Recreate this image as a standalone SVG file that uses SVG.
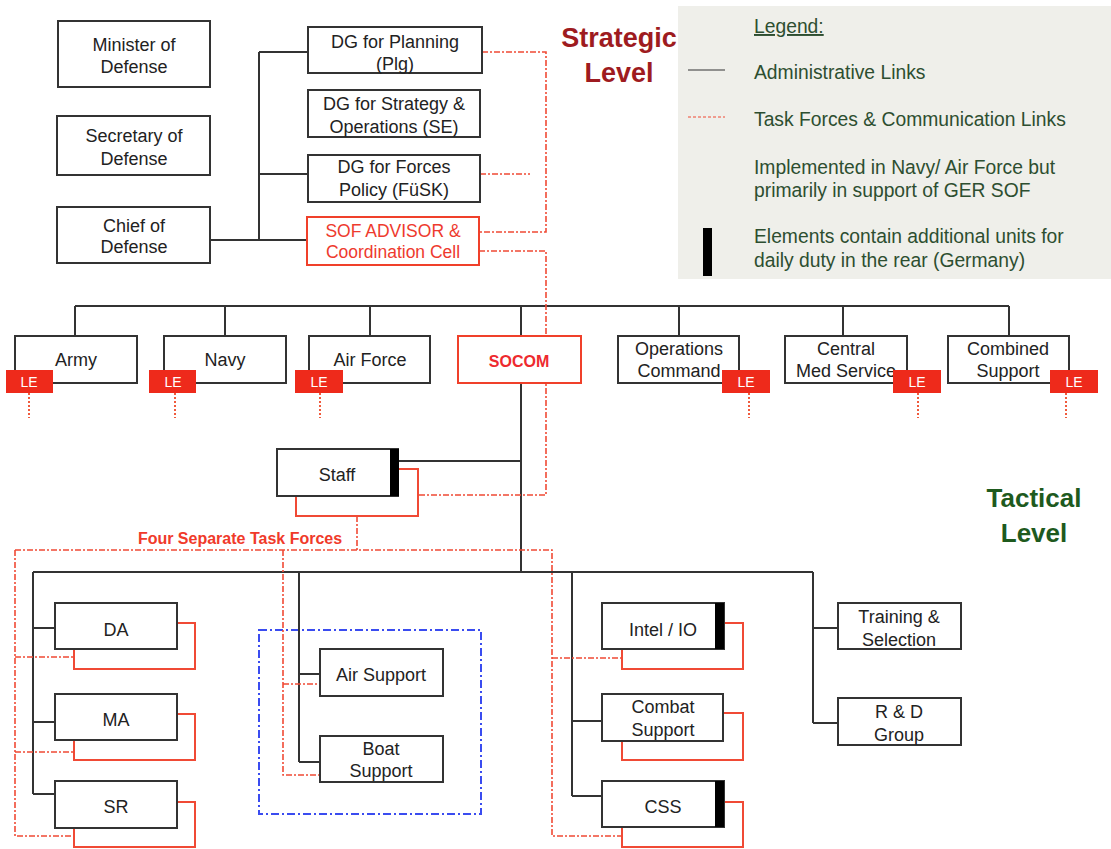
<svg xmlns="http://www.w3.org/2000/svg" width="1111" height="849" viewBox="0 0 1111 849">
<style>
.box{fill:#fff;stroke:#333;stroke-width:2}
.rbox{fill:#fff;stroke:#f0402a;stroke-width:2}
.obox{fill:#fff;stroke:#f04a35;stroke-width:2}
.t{font-family:"Liberation Sans",Arial,sans-serif;font-size:18px;fill:#222;text-anchor:middle}
.rt{font-family:"Liberation Sans",Arial,sans-serif;font-size:17.5px;fill:#ee3a2e;text-anchor:middle}
.le{fill:#ee2a1b}
.let{font-family:"Liberation Sans",Arial,sans-serif;font-size:14px;fill:#fff;text-anchor:middle}
.adm{stroke:#333;stroke-width:2;fill:none}
.tf{stroke:#f04a35;stroke-width:1.6;stroke-dasharray:6 2 2 2;fill:none}
.dot{stroke:#f05a3c;stroke-width:2;stroke-dasharray:2 2;fill:none}
.bar{fill:#000}
.lg{font-family:"Liberation Sans",Arial,sans-serif;font-size:19.3px;fill:#2d4e30}
</style>

<!-- Legend -->
<g id="legend">
<rect x="678" y="6" width="433" height="273" fill="#efefea"/>
<text class="lg" x="754" y="33" text-decoration="underline">Legend:</text>
<line x1="688" y1="70" x2="725" y2="70" stroke="#333" stroke-width="1.2"/>
<text class="lg" x="754" y="79">Administrative Links</text>
<line x1="688" y1="117" x2="725" y2="117" stroke="#f04a35" stroke-width="1.2" stroke-dasharray="3 2"/>
<text class="lg" x="754" y="126">Task Forces &amp; Communication Links</text>
<text class="lg" x="754" y="174">Implemented in Navy/ Air Force but</text>
<text class="lg" x="754" y="197">primarily in support of GER SOF</text>
<rect x="703" y="228" width="9" height="48" fill="#000"/>
<text class="lg" x="754" y="243">Elements contain additional units for</text>
<text class="lg" x="754" y="267">daily duty in the rear (Germany)</text>
</g>

<!-- Level labels -->
<g id="levels" font-family="'Liberation Sans',Arial,sans-serif" font-weight="bold" text-anchor="middle">
<text x="619" y="47" font-size="27" fill="#9e1b20">Strategic</text>
<text x="619" y="82" font-size="27" fill="#9e1b20">Level</text>
<text x="1034" y="507" font-size="26" fill="#1e5a1e">Tactical</text>
<text x="1034" y="542" font-size="26" fill="#1e5a1e">Level</text>
</g>

<!-- Blue area -->
<rect x="259" y="630" width="222" height="184" fill="none" stroke="#3a4cf0" stroke-width="2" stroke-dasharray="8 3 2 3"/>

<!-- Connectors -->
<g id="connectors">
<path class="adm" d="M210,240 H307 M259,52 V240 M259,52 H308 M259,174 H308"/>
<path class="adm" d="M75,306 H1009 M75,306 V336 M225,306 V336 M370,306 V336 M521,306 V336 M679,306 V336 M843,306 V336 M1009,306 V336"/>
<path class="adm" d="M521,383 V572 M398,461 H521"/>
<path class="adm" d="M33,572 H813 M33,572 V794 M33,628 H55 M33,722 H55 M33,794 H55"/>
<path class="adm" d="M299,572 V762 M299,674 H320 M299,762 H320"/>
<path class="adm" d="M572,572 V796 M572,721 H602 M572,796 H602"/>
<path class="adm" d="M813,572 V723 M813,628 H838 M813,723 H838"/>
<path class="tf" d="M482,52 H546 V232 H479"/>
<path class="tf" d="M480,174 H530"/>
<path class="tf" d="M479,251 H546 V495 H418"/>
<path class="tf" d="M357,516 V550"/>
<path class="tf" d="M15,550 H552 V836 H622"/>
<path class="tf" d="M15,550 V836 H74 M15,657 H74 M15,752 H74"/>
<path class="tf" d="M283,550 V775 H320 M283,684 H320"/>
<path class="tf" d="M552,658 H622"/>
<path class="dot" d="M29,393 V418 M175,393 V418 M320,393 V418 M749,393 V418 M918,393 V418 M1066,393 V418"/>
</g>

<!-- Strategic nodes -->
<g id="minister"><rect class="box" x="58" y="21" width="152" height="66"/><text class="t" x="134" y="51">Minister of</text><text class="t" x="134" y="73">Defense</text></g>
<g id="secretary"><rect class="box" x="57" y="116" width="153" height="59"/><text class="t" x="134" y="142">Secretary of</text><text class="t" x="134" y="165">Defense</text></g>
<g id="chief"><rect class="box" x="57" y="207" width="153" height="56"/><text class="t" x="134" y="232">Chief of</text><text class="t" x="134" y="253">Defense</text></g>
<g id="dg-plg"><rect class="box" x="308" y="27" width="174" height="46"/><text class="t" x="395" y="48">DG for Planning</text><text class="t" x="395" y="70">(Plg)</text></g>
<g id="dg-se"><rect class="box" x="308" y="90" width="172" height="47"/><text class="t" x="394" y="110">DG for Strategy &amp;</text><text class="t" x="394" y="133">Operations (SE)</text></g>
<g id="dg-fusk"><rect class="box" x="308" y="155" width="172" height="47"/><text class="t" x="394" y="173">DG for Forces</text><text class="t" x="394" y="196">Policy (FüSK)</text></g>
<g id="sof"><rect class="rbox" x="307" y="217" width="172" height="48"/><text class="rt" x="393" y="237">SOF ADVISOR  &amp;</text><text class="rt" x="393" y="258">Coordination Cell</text></g>

<!-- Service row -->
<g id="army"><rect class="box" x="15" y="336" width="122" height="47"/><text class="t" x="76" y="366">Army</text><rect class="le" x="6" y="370" width="47" height="23"/><text class="let" x="29" y="387">LE</text></g>
<g id="navy"><rect class="box" x="164" y="336" width="122" height="47"/><text class="t" x="225" y="366">Navy</text><rect class="le" x="149" y="370" width="47" height="23"/><text class="let" x="173" y="387">LE</text></g>
<g id="airforce"><rect class="box" x="309" y="336" width="121" height="47"/><text class="t" x="370" y="366">Air Force</text><rect class="le" x="295" y="370" width="48" height="23"/><text class="let" x="319" y="387">LE</text></g>
<g id="socom"><rect class="rbox" x="458" y="336" width="123" height="47"/><text x="519" y="367" font-family="'Liberation Sans',Arial,sans-serif" font-size="16" font-weight="bold" fill="#ee2a2e" text-anchor="middle">SOCOM</text></g>
<g id="opscmd"><rect class="box" x="618" y="336" width="121" height="47"/><text class="t" x="679" y="355">Operations</text><text class="t" x="679" y="377">Command</text><rect class="le" x="722" y="370" width="48" height="23"/><text class="let" x="746" y="387">LE</text></g>
<g id="medsvc"><rect class="box" x="785" y="336" width="122" height="47"/><text class="t" x="846" y="355">Central</text><text class="t" x="846" y="377">Med Service</text><rect class="le" x="893" y="370" width="48" height="23"/><text class="let" x="917" y="387">LE</text></g>
<g id="combsup"><rect class="box" x="948" y="336" width="121" height="47"/><text class="t" x="1008" y="355">Combined</text><text class="t" x="1008" y="377">Support</text><rect class="le" x="1050" y="370" width="48" height="23"/><text class="let" x="1074" y="387">LE</text></g>

<!-- Tactical nodes -->
<g id="staff"><rect class="obox" x="296" y="469" width="122" height="47"/><rect class="box" x="277" y="449" width="121" height="47"/><rect class="bar" x="390" y="449" width="9" height="47"/><text class="t" x="337" y="481">Staff</text></g>
<text x="240" y="544" font-family="'Liberation Sans',Arial,sans-serif" font-size="16" font-weight="bold" fill="#f03a2a" text-anchor="middle">Four Separate Task Forces</text>

<g id="da"><rect class="obox" x="74" y="623" width="121" height="46"/><rect class="box" x="55" y="603" width="122" height="46"/><text class="t" x="116" y="636">DA</text></g>
<g id="ma"><rect class="obox" x="74" y="714" width="121" height="46"/><rect class="box" x="55" y="694" width="122" height="46"/><text class="t" x="116" y="726">MA</text></g>
<g id="sr"><rect class="obox" x="74" y="802" width="121" height="45"/><rect class="box" x="55" y="781" width="122" height="47"/><text class="t" x="116" y="813">SR</text></g>

<g id="airsup"><rect class="box" x="320" y="649" width="123" height="47"/><text class="t" x="381" y="681">Air Support</text></g>
<g id="boatsup"><rect class="box" x="320" y="736" width="123" height="46"/><text class="t" x="381" y="755">Boat</text><text class="t" x="381" y="777">Support</text></g>

<g id="intel"><rect class="obox" x="622" y="623" width="121" height="46"/><rect class="box" x="602" y="603" width="122" height="46"/><rect class="bar" x="715" y="603" width="9" height="46"/><text class="t" x="663" y="636">Intel / IO</text></g>
<g id="combat"><rect class="obox" x="622" y="713" width="121" height="47"/><rect class="box" x="602" y="694" width="121" height="47"/><text class="t" x="663" y="713">Combat</text><text class="t" x="663" y="736">Support</text></g>
<g id="css"><rect class="obox" x="622" y="802" width="121" height="45"/><rect class="box" x="602" y="781" width="122" height="46"/><rect class="bar" x="715" y="781" width="9" height="46"/><text class="t" x="663" y="813">CSS</text></g>

<g id="training"><rect class="box" x="838" y="603" width="123" height="46"/><text class="t" x="899" y="623">Training &amp;</text><text class="t" x="899" y="646">Selection</text></g>
<g id="rnd"><rect class="box" x="838" y="698" width="123" height="47"/><text class="t" x="899" y="718">R &amp; D</text><text class="t" x="899" y="741">Group</text></g>
</svg>
